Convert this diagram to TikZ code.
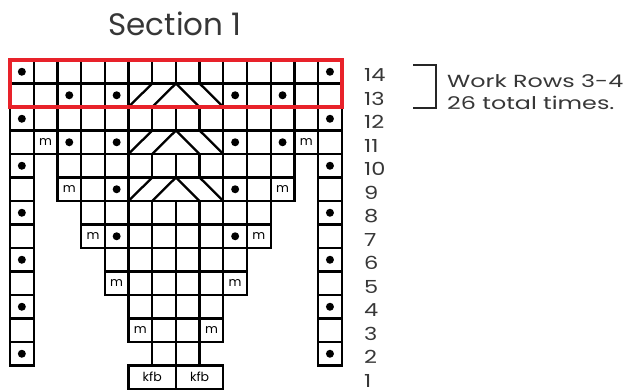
\documentclass[tikz,border=0pt]{standalone}
\usepackage{fontspec}
\setmainfont{Poppins}
\newfontfamily\widefont[FakeStretch=1.36]{Poppins}
\newfontfamily\numfont[FakeStretch=1.25]{Poppins}
\usepackage{tikz}
\usetikzlibrary{positioning, fit, calc}

\definecolor{chartred}{RGB}{232,34,42}
\definecolor{inkgray}{RGB}{55,55,55}

\def\cw{23.7}
\def\ch{23.5}

\begin{document}
\begin{tikzpicture}[
  x=1pt, y=-1pt,
  cell/.style={rectangle, draw, line width=2.3pt, inner sep=0pt, outer sep=0pt,
               minimum width=\cw pt, minimum height=\ch pt},
  cablebox/.style={cell, minimum width=4*\cw pt},
  kfbcell/.style={cell, minimum width=2*\cw pt, font=\fontsize{12.5}{14}\selectfont},
  stitch/.style={font=\fontsize{12.5}{14}\selectfont, inner sep=0pt},
  cross/.style={line width=2.3pt},
  hilite/.style={draw=chartred, line width=4pt, inner sep=0pt},
  rownum/.style={font=\numfont\fontsize{18}{20}\selectfont, text=inkgray, inner sep=0pt},
  note/.style={font=\widefont\fontsize{17.5}{20}\selectfont, text=inkgray, inner sep=0pt},
  title/.style={font=\fontsize{31}{34}\selectfont, text=inkgray, inner sep=0pt},
  bracket/.style={line width=1.6pt, draw=black!85}
]
\useasboundingbox (0,0) rectangle (631,391);

% --- Title ---
\node[title, anchor=base] (title) at (175,35) {Section 1};

% --- Chart cells, row by row ---
\foreach \r/\cols in {14/{1,...,14}, 13/{1,...,5,10,11,12,13,14},
    12/{1,...,14}, 11/{1,...,5,10,11,12,13,14},
    10/{1,3,4,5,6,7,8,9,10,11,12,14}, 9/{1,3,4,5,10,11,12,14},
    8/{1,4,5,6,7,8,9,10,11,14}, 7/{1,4,5,6,7,8,9,10,11,14},
    6/{1,5,6,7,8,9,10,14}, 5/{1,5,6,7,8,9,10,14},
    4/{1,6,7,8,9,14}, 3/{1,6,7,8,9,14}, 2/{1,7,8,14}}
  \foreach \c in \cols
    \node[cell] (c\r-\c) at ({10+(\c-0.5)*\cw},{60+(14.5-\r)*\ch}) {};

% --- Cable crossings over columns 6-9 ---
\foreach \r in {13,11,9} {
  \node[cablebox] (cable\r) at ({10+7*\cw},{60+(14.5-\r)*\ch}) {};
  \draw[cross] (cable\r.south west) -- ++(\cw,-\ch);
  \draw[cross] ($(cable\r.south west)+(\cw,0)$) -- ++(\cw,-\ch);
  \draw[cross] (cable\r.north) -- ++(\cw,\ch);
  \draw[cross] ($(cable\r.north)+(\cw,0)$) -- ++(\cw,\ch);
}

% --- Row 1: increases ---
\node[kfbcell] (kfb-a) at ({10+6*\cw},{60+13.5*\ch}) {kfb};
\node[kfbcell] (kfb-b) at ({10+8*\cw},{60+13.5*\ch}) {kfb};

% --- Purl dots and make-one stitches ---
\foreach \r/\c in {14/1,14/14,13/3,13/5,13/10,13/12,12/1,12/14,11/3,11/5,11/10,11/12,
    10/1,10/14,9/5,9/10,8/1,8/14,7/5,7/10,6/1,6/14,4/1,4/14,2/1,2/14}
  \fill (c\r-\c) circle (4pt);
\foreach \r/\c in {11/2,11/13,9/3,9/12,7/4,7/11,5/5,5/10,3/6,3/9}
  \node[stitch] (m\r-\c) at (c\r-\c) {m};

% --- Repeat highlight ---
\node[hilite, fit=(c14-1)(c13-14)] (repeat) {};

% --- Row numbers ---
\foreach \r in {1,...,14}
  \node[rownum, anchor=base west] (n\r) at (364,{60+(14.5-\r)*\ch+10}) {\r};

% --- Repeat bracket and note ---
\coordinate (brtop) at (413,65);
\coordinate (brbot) at (413,108);
\draw[bracket] (brtop) -| ($(brbot)+(23,0)$) -- (brbot);
\node[note, anchor=base west] (note1) at (447,87) {Work Rows 3-4};
\node[note, anchor=base west] (note2) at (447,109) {26 total times.};

\end{tikzpicture}
\end{document}
